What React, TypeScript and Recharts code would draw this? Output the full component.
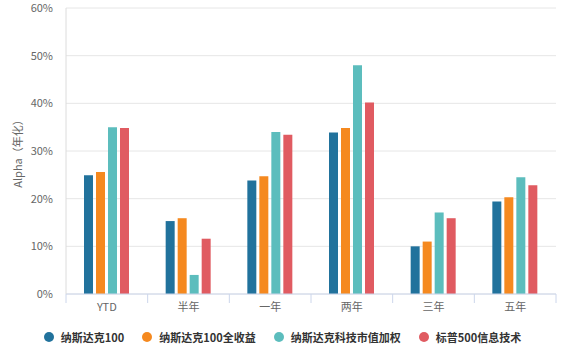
import React from 'react';
import { BarChart, Bar, XAxis, YAxis, CartesianGrid, Label } from 'recharts';

const categories = ['YTD', '半年', '一年', '两年', '三年', '五年'];
const nasdaq100 = [24.9, 15.3, 23.8, 33.9, 10.0, 19.4];
const nasdaq100TR = [25.6, 15.9, 24.7, 34.8, 11.0, 20.3];
const nasdaqTech = [35.0, 4.0, 34.0, 48.0, 17.1, 24.5];
const sp500IT = [34.8, 11.6, 33.4, 40.2, 15.9, 22.8];
const yTicks = [0, 10, 20, 30, 40, 50, 60];

const series = [
  { key: 'n100', name: '纳斯达克100', color: '#21729c', values: nasdaq100 },
  { key: 'n100tr', name: '纳斯达克100全收益', color: '#f5891f', values: nasdaq100TR },
  { key: 'ntech', name: '纳斯达克科技市值加权', color: '#5cbdbd', values: nasdaqTech },
  { key: 'spit', name: '标普500信息技术', color: '#e05b61', values: sp500IT },
];

const data = categories.map((c, i) => {
  const row: Record<string, string | number> = { name: c };
  series.forEach((s) => { row[s.key] = s.values[i]; });
  return row;
});

const W = 565;
const H = 353;
const margin = { top: 8, right: 9, bottom: 0, left: 0 };
const yAxisWidth = 66;
const xAxisHeight = 59;
const band = (W - margin.left - margin.right - yAxisWidth) / categories.length;
const font = '"Noto Sans CJK SC", "Noto Sans", sans-serif';

const XTick = (props: any) => {
  const { x, y, payload, index } = props;
  const last = index === categories.length - 1;
  return (
    <g>
      <line x1={x - band / 2} y1={y} x2={x - band / 2} y2={y + 9} stroke="#ccd6eb" />
      {last && <line x1={x + band / 2} y1={y} x2={x + band / 2} y2={y + 9} stroke="#ccd6eb" />}
      <text x={x} y={y + 17} textAnchor="middle" fill="#666" fontSize={11} fontFamily={font}>
        {payload.value}
      </text>
    </g>
  );
};

export default function App() {
  return (
    <div style={{ position: 'absolute', left: 0, top: 0, width: W, height: H, background: '#fff', fontFamily: font }}>
      <BarChart width={W} height={H} data={data} margin={margin} barSize={9} barGap={3}>
        <CartesianGrid horizontal vertical={false} stroke="#e6e6e6" />
        <XAxis
          dataKey="name"
          height={xAxisHeight}
          axisLine={{ stroke: '#ccd6eb' }}
          tickLine={false}
          tickSize={0}
          tickMargin={0}
          interval={0}
          tick={<XTick />}
        />
        <YAxis
          width={yAxisWidth}
          domain={[0, 60]}
          ticks={yTicks}
          interval={0}
          tickFormatter={(v: number) => `${v}%`}
          axisLine={{ stroke: '#dcdcdc' }}
          tickLine={false}
          tickMargin={7}
          tick={{ fill: '#666', fontSize: 11, fontFamily: font }}
        >
          <Label
            value="Alpha（年化）"
            angle={-90}
            position="insideLeft"
            offset={18}
            style={{ fill: '#666', fontSize: 11, fontFamily: font, textAnchor: 'middle' }}
          />
        </YAxis>
        {series.map((s) => (
          <Bar key={s.key} dataKey={s.key} name={s.name} fill={s.color} isAnimationActive={false} />
        ))}
      </BarChart>
      <div
        style={{
          position: 'absolute',
          top: 330,
          left: 0,
          width: W,
          display: 'flex',
          justifyContent: 'center',
          gap: 18,
          fontSize: 11,
          lineHeight: '14px',
          color: '#333',
          fontWeight: 600,
        }}
      >
        {series.map((s) => (
          <div key={s.key} style={{ display: 'flex', alignItems: 'center' }}>
            <span style={{ width: 10, height: 10, borderRadius: '50%', background: s.color, marginRight: 7, display: 'inline-block' }} />
            <span>{s.name}</span>
          </div>
        ))}
      </div>
    </div>
  );
}
